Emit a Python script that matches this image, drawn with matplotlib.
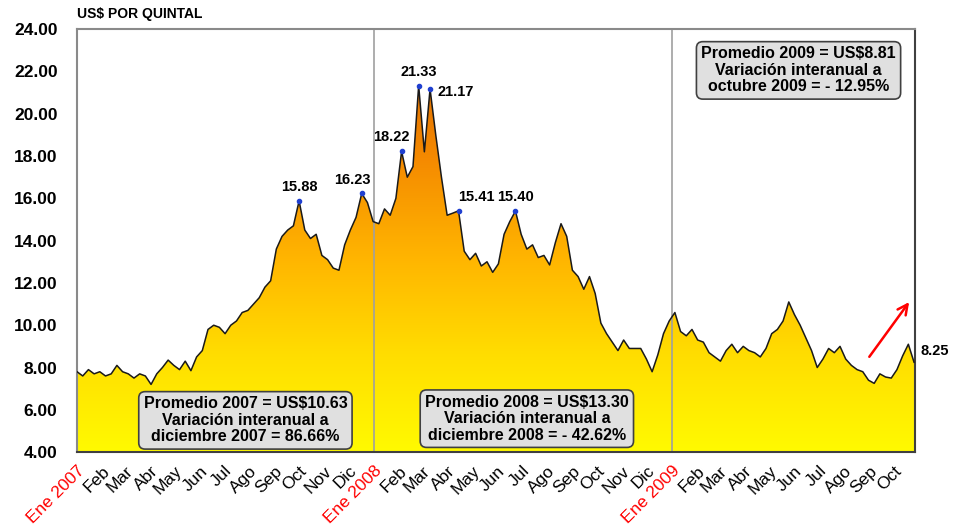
import matplotlib
import matplotlib.pyplot as plt
import matplotlib.dates as mdates
from matplotlib.colors import LinearSegmentedColormap
from matplotlib.patches import Polygon
import numpy as np
import pandas as pd

matplotlib.use("agg")
plt.rcParams["font.family"] = ["Liberation Sans", "DejaVu Sans"]

# weekly prices, US$ per quintal, Jan 2007 - Oct 2009
prices = [
    7.8, 7.6, 7.9, 7.7, 7.8, 7.6, 7.7, 8.1, 7.8, 7.7,
    7.5, 7.7, 7.6, 7.2, 7.7, 8.0, 8.35, 8.1, 7.9, 8.3,
    7.85, 8.5, 8.8, 9.8, 10.0, 9.9, 9.6, 10.0, 10.2, 10.6,
    10.7, 11.0, 11.3, 11.8, 12.1, 13.6, 14.2, 14.5, 14.7, 15.88,
    14.5, 14.1, 14.3, 13.3, 13.1, 12.7, 12.6, 13.8, 14.5, 15.1,
    16.23, 15.8, 14.9, 14.8, 15.5, 15.2, 16.0, 18.22, 17.0, 17.5,
    21.33, 18.2, 21.17, 19.0, 17.0, 15.2, 15.3, 15.41, 13.5, 13.1,
    13.4, 12.8, 13.0, 12.5, 12.9, 14.3, 14.9, 15.40, 14.3, 13.6,
    13.8, 13.2, 13.3, 12.85, 13.9, 14.8, 14.2, 12.6, 12.3, 11.7,
    12.3, 11.5, 10.1, 9.6, 9.2, 8.8, 9.3, 8.9, 8.9, 8.9,
    8.4, 7.8, 8.6, 9.6, 10.2, 10.6, 9.7, 9.5, 9.8, 9.3,
    9.2, 8.7, 8.5, 8.3, 8.8, 9.1, 8.7, 9.0, 8.8, 8.7,
    8.5, 8.9, 9.6, 9.8, 10.2, 11.1, 10.5, 10.0, 9.4, 8.8,
    8.0, 8.4, 8.9, 8.7, 9.0, 8.4, 8.1, 7.9, 7.8, 7.4,
    7.25, 7.7, 7.55, 7.5, 7.9, 8.55, 9.1, 8.25,
]
dates = pd.date_range("2007-01-01", periods=len(prices), freq="7D")

peak_idx = [39, 50, 57, 60, 62, 67, 77]
peak_offsets = [(0, 5), (-7, 5), (-7, 5), (0, 5), (5, -2), (0, 5), (0, 5)]
peak_ha = ["center", "center", "center", "center", "left", "left", "center"]

month_names = ["Ene", "Feb", "Mar", "Abr", "May", "Jun",
               "Jul", "Ago", "Sep", "Oct", "Nov", "Dic"]
month_ticks = pd.date_range("2007-01-01", "2009-10-01", freq="MS")

boxes = [
    ("2007-07-27", 5.50, "Promedio 2007 = US$10.63\nVariación interanual a\ndiciembre 2007 = 86.66%"),
    ("2008-07-07", 5.58, "Promedio 2008 = US$13.30\nVariación interanual a\ndiciembre 2008 = - 42.62%"),
    ("2009-06-06", 22.05, "Promedio 2009 = US$8.81\nVariación interanual a\noctubre 2009 = - 12.95%"),
]

fig = plt.figure(figsize=(9.63, 5.30), dpi=100)
ax = fig.add_axes([0.080, 0.147, 0.870, 0.798])

x = mdates.date2num(dates)
y = np.array(prices)
ymin, ymax = 4, 24
xlo, xhi = x[0], x[-1] + 1

# gradient fill clipped to the area under the curve
cmap = LinearSegmentedColormap.from_list(
    "yo", ["#FFFA00", "#FFDD00", "#FFB400", "#F58A00", "#DC6A00"])
grad = np.linspace(0, 1, 256).reshape(-1, 1)
im = ax.imshow(grad, cmap=cmap, aspect="auto", origin="lower",
               extent=(xlo, xhi, ymin, 22.5), zorder=1)
verts = np.vstack([[x[0], ymin], np.column_stack([x, y]), [x[-1], ymin]])
clip = Polygon(verts, closed=True, transform=ax.transData, facecolor="none", edgecolor="none")
ax.add_patch(clip)
im.set_clip_path(clip)

ax.plot(x, y, color="#1a1a1a", lw=1.1, zorder=3)

for d in ["2008-01-01", "2009-01-01"]:
    ax.axvline(mdates.date2num(pd.Timestamp(d)), color="#a0a0a0", lw=1.2, zorder=2)

for i, off, ha in zip(peak_idx, peak_offsets, peak_ha):
    ax.plot(x[i], y[i], "o", color="#2040d0", ms=3, zorder=4)
    ax.annotate(f"{prices[i]:.2f}", (x[i], y[i]), xytext=off, textcoords="offset points",
                ha=ha, va="bottom" if off[1] > 0 else "center",
                fontsize=10.5, fontweight="bold", zorder=5)

ax.annotate(f"{prices[-1]:.2f}", (x[-1], y[-1]), xytext=(5, 8), textcoords="offset points",
            ha="left", va="center", fontsize=10.5, fontweight="bold",
            annotation_clip=False)

ax.annotate("", xy=(mdates.date2num(pd.Timestamp("2009-10-22")), 11.2),
            xytext=(mdates.date2num(pd.Timestamp("2009-08-30")), 8.4),
            arrowprops=dict(arrowstyle="->", color="red", lw=1.8, mutation_scale=18), zorder=6)

for d, yv, txt in boxes:
    ax.text(mdates.date2num(pd.Timestamp(d)), yv, txt, ha="center", va="center",
            fontsize=11.5, fontweight="bold", linespacing=1.12, zorder=7,
            bbox=dict(boxstyle="round,pad=0.3,rounding_size=0.4", fc="#e0e0e0",
                      ec="#404040", lw=1.2))

ax.set_xlim(xlo, xhi)
ax.set_ylim(ymin, ymax)
ax.set_yticks(np.arange(4, 25, 2))
ax.set_yticklabels([f"{v:.2f}" for v in np.arange(4, 25, 2)], fontsize=12.5, fontweight="bold")
ax.tick_params(axis="y", length=0, pad=14)

ax.set_xticks(mdates.date2num(month_ticks))
labels = []
for t in month_ticks:
    labels.append(f"Ene {t.year}" if t.month == 1 else month_names[t.month - 1])
ax.set_xticklabels(labels, rotation=45, ha="right", va="top",
                   rotation_mode="anchor", fontsize=12.5)
for lab, t in zip(ax.get_xticklabels(), month_ticks):
    if t.month == 1:
        lab.set_color("red")
ax.tick_params(axis="x", length=0, pad=8)

for side in ["left", "top"]:
    ax.spines[side].set_color("#8a8a8a")
    ax.spines[side].set_linewidth(1.5)
for side in ["right", "bottom"]:
    ax.spines[side].set_color("#404040")
    ax.spines[side].set_linewidth(1.5)

fig.text(0.080, 0.973, "US$ POR QUINTAL", ha="left", va="center",
         fontsize=10, fontweight="bold")

fig.savefig("out.png", dpi=100)
